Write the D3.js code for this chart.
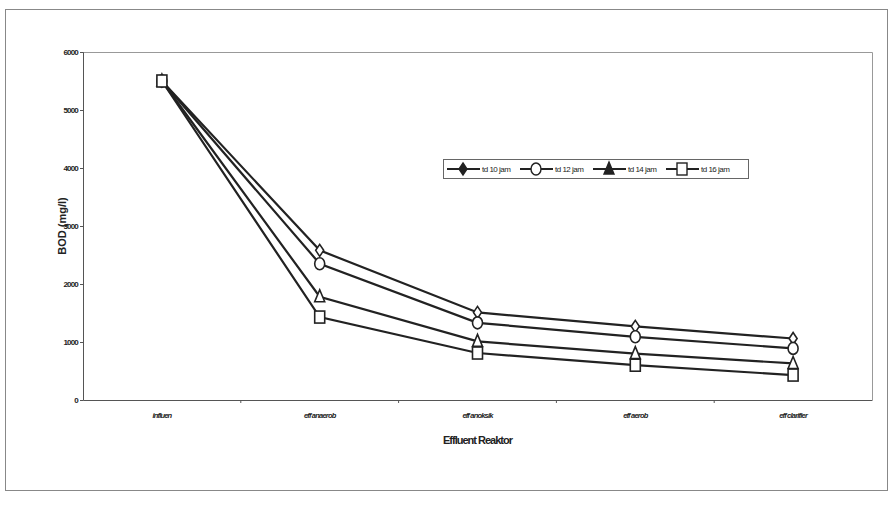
<!DOCTYPE html>
<html>
<head>
<meta charset="utf-8">
<script src="https://cdn.jsdelivr.net/npm/d3@7"></script>
<style>
  body { margin: 0; background: #fff; }
  text { font-family: "Liberation Sans", Arial, sans-serif; fill: #222; }
</style>
</head>
<body>
<script>
// chart data
const categories = ['influen', 'eff anaerob', 'eff anoksik', 'eff aerob', 'eff clarifier']
const seriesNames = ['td 10 jam', 'td 12 jam', 'td 14 jam', 'td 16 jam']
const td10 = [5500, 2580, 1510, 1270, 1060]
const td12 = [5500, 2350, 1330, 1090, 890]
const td14 = [5500, 1780, 1010, 800, 630]
const td16 = [5500, 1430, 810, 600, 430]
const yTicks = [0, 1000, 2000, 3000, 4000, 5000, 6000]

const series = [td10, td12, td14, td16]
const markers = ['diamond', 'circle', 'triangle', 'square']

const W = 890, H = 518
const mLeft = 83, mRight = 872, mTop = 52, mBottom = 400

const svg = d3.select('body').append('svg')
    .attr('width', W)
    .attr('height', H)

// outer chart frame
svg.append('rect')
    .attr('x', 5.5).attr('y', 9.5)
    .attr('width', 882).attr('height', 481)
    .attr('fill', 'none')
    .attr('stroke', '#888')
    .attr('stroke-width', 1)

const x = d3.scaleBand().domain(categories).range([mLeft, mRight])
const y = d3.scaleLinear().domain([0, 6000]).range([mBottom, mTop])

// plot area border (top + right), gray
svg.append('path')
    .attr('d', `M${mLeft},${mTop + 0.5}H${mRight + 0.5}V${mBottom}`)
    .attr('fill', 'none')
    .attr('stroke', '#999')

// y axis
const yAxis = svg.append('g')
    .attr('transform', `translate(${mLeft},0)`)
    .call(d3.axisLeft(y).tickValues(yTicks).tickSize(3).tickPadding(2).tickFormat(d3.format('d')))
yAxis.select('.domain').attr('stroke', '#555')
yAxis.selectAll('.tick line').attr('stroke', '#555')
yAxis.selectAll('text')
    .style('font-size', '8px')
    .style('font-weight', 'bold')
    .attr('fill', '#222')
    .attr('letter-spacing', '-0.8')

// x axis, ticks between categories
const xAxis = svg.append('g')
    .attr('transform', `translate(0,${mBottom})`)
    .call(d3.axisBottom(x).tickSize(0).tickPadding(13))
xAxis.select('.domain').attr('stroke', '#555')
xAxis.selectAll('text')
    .style('font-size', '7.5px')
    .style('font-style', 'italic')
    .style('font-weight', 'bold')
    .attr('fill', '#222')
    .attr('letter-spacing', '-0.8')
xAxis.selectAll('.sep')
    .data(categories.slice(1))
    .join('line')
    .attr('class', 'sep')
    .attr('x1', d => x(d)).attr('x2', d => x(d))
    .attr('y1', 0).attr('y2', 3)
    .attr('stroke', '#555')

// axis titles
svg.append('text')
    .attr('transform', `translate(66,${(mTop + mBottom) / 2}) rotate(-90)`)
    .attr('text-anchor', 'middle')
    .style('font-size', '11px')
    .style('font-weight', 'bold')
    .text('BOD (mg/l)')

svg.append('text')
    .attr('x', x(categories[2]) + x.bandwidth() / 2)
    .attr('y', 444)
    .attr('text-anchor', 'middle')
    .style('font-size', '11px')
    .style('font-weight', 'bold')
    .attr('letter-spacing', '-1')
    .text('Effluent Reaktor')

const cx = i => x(categories[i]) + x.bandwidth() / 2

function drawMarker(g, type, px, py) {
    if (type === 'circle') {
        g.append('ellipse').attr('cx', px).attr('cy', py).attr('rx', 5).attr('ry', 6)
    } else if (type === 'square') {
        g.append('rect').attr('x', px - 5).attr('y', py - 6).attr('width', 10).attr('height', 12)
    } else if (type === 'triangle') {
        g.append('path').attr('d', `M${px},${py - 7}L${px + 5},${py + 5}L${px - 5},${py + 5}Z`)
    } else {
        g.append('path').attr('d', `M${px},${py - 6}L${px + 4},${py}L${px},${py + 6}L${px - 4},${py}Z`)
    }
}

const line = d3.line().x((d, i) => cx(i)).y(d => y(d))

// draw lines
series.forEach((s, k) => {
    svg.append('path')
        .datum(s)
        .attr('d', line)
        .attr('fill', 'none')
        .attr('stroke', '#222')
        .attr('stroke-width', 2.2)
})

// draw markers, series order like excel (last one ends up on top)
series.forEach((s, k) => {
    const g = svg.append('g')
        .attr('fill', '#fff')
        .attr('stroke', '#222')
        .attr('stroke-width', 1.6)
    s.forEach((v, i) => drawMarker(g, markers[k], cx(i), y(v)))
})

// legend
const lg = svg.append('g')
lg.append('rect')
    .attr('x', 443.5).attr('y', 159.5)
    .attr('width', 305).attr('height', 19)
    .attr('fill', '#fff')
    .attr('stroke', '#666')
const legX = [447, 520, 593, 666]
seriesNames.forEach((name, k) => {
    const lx = legX[k], ly = 169
    lg.append('line')
        .attr('x1', lx).attr('x2', lx + 33)
        .attr('y1', ly).attr('y2', ly)
        .attr('stroke', '#222').attr('stroke-width', 2)
    const mg = lg.append('g')
        .attr('fill', k === 0 || k === 2 ? '#222' : '#fff')
        .attr('stroke', '#222').attr('stroke-width', 1.4)
    drawMarker(mg, markers[k], lx + 16, ly)
    lg.append('text')
        .attr('x', lx + 35).attr('y', ly + 3)
        .style('font-size', '8px')
        .attr('letter-spacing', '-0.5')
        .text(name)
})
</script>
</body>
</html>
